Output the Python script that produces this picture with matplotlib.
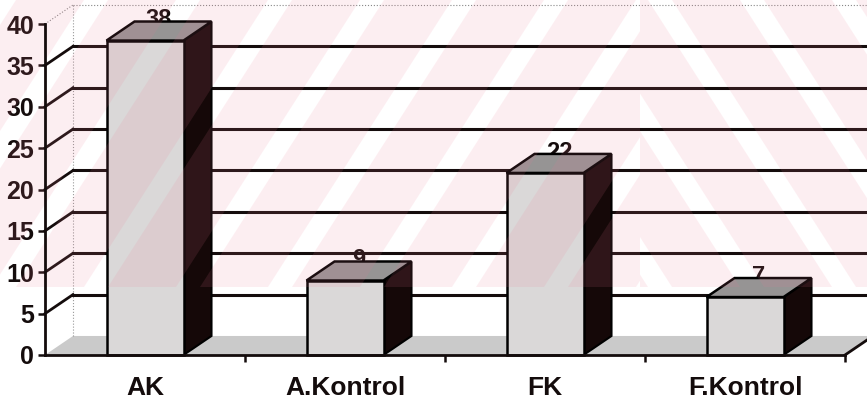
import numpy as np
import matplotlib.pyplot as plt
from matplotlib.patches import Polygon, Rectangle

plt.rcParams['font.family'] = ['Liberation Sans', 'DejaVu Sans']
plt.rcParams['font.weight'] = 'bold'

# data
categories = ['AK', 'A.Kontrol', 'FK', 'F.Kontrol']
values = [38, 9, 22, 7]
y_ticks = [0, 5, 10, 15, 20, 25, 30, 35, 40]

W, H = 867, 403
fig = plt.figure(figsize=(W / 100, H / 100), dpi=100)
ax = fig.add_axes([45 / W, 48 / H, 800 / W, 331 / H])
n = len(categories)
ax.set_xlim(0, n)
ax.set_ylim(0, y_ticks[-1])

dx = 0.14    # depth of the 3d effect, in category units
dy = 2.3     # depth of the 3d effect, in value units
bw = 0.385   # bar width
x_end = n + 0.2
ink = '#140c0c'

# floor
ax.add_patch(Polygon([(0, 0), (n, 0), (n + dx, dy), (dx, dy)],
                     fc='#cacaca', ec='none', zorder=1, clip_on=False))
ax.plot([n, n + dx], [0, dy], color=ink, lw=2, zorder=1.3, clip_on=False)

# back wall and side wall gridlines
for v in y_ticks[1:-1]:
    ax.plot([dx, x_end], [v + dy, v + dy], color=ink, lw=2.2,
            zorder=1.2, clip_on=False)
    ax.plot([0, dx], [v, v + dy], color=ink, lw=2, zorder=1.2,
            clip_on=False)
top = y_ticks[-1]
ax.plot([dx, x_end], [top + dy, top + dy], color='#888888', lw=0.8,
        ls=':', zorder=1.1, clip_on=False)
ax.plot([0, dx], [top, top + dy], color='#888888', lw=0.8, ls=':',
        zorder=1.1, clip_on=False)
ax.plot([dx, dx], [dy, top + dy], color='#999999', lw=0.8, ls=':',
        zorder=1.1, clip_on=False)

# 3d bars
for i, v in enumerate(values):
    x0 = i + 0.5 - bw / 2
    x1 = i + 0.5 + bw / 2
    ax.add_patch(Polygon([(x1, 0), (x1 + dx, dy), (x1 + dx, v + dy), (x1, v)],
                         fc='#150808', ec='black', lw=1.5, zorder=2,
                         clip_on=False))
    ax.add_patch(Polygon([(x0, v), (x1, v), (x1 + dx, v + dy), (x0 + dx, v + dy)],
                         fc='#969494', ec='black', lw=1.8, zorder=2,
                         clip_on=False))
    ax.add_patch(Rectangle((x0, 0), bw, v, fc='#dad8d8', ec='black',
                           lw=1.8, zorder=2, clip_on=False))
    # label sits behind the top face
    ax.text(i + 0.5 + dx / 2, v + dy - 0.6, str(v), ha='center',
            va='baseline', fontsize=17, fontweight='bold', color=ink,
            zorder=1.9, clip_on=False)

# axes
for s in ['top', 'right']:
    ax.spines[s].set_visible(False)
for s in ['left', 'bottom']:
    ax.spines[s].set_linewidth(2)
    ax.spines[s].set_color(ink)
    ax.spines[s].set_zorder(2.6)

ax.set_yticks(y_ticks)
ax.tick_params(axis='y', direction='out', length=5, width=1.8,
               labelsize=18, pad=3, color=ink)
ax.set_xticks(np.arange(n) + 0.5)
ax.set_xticklabels(categories)
ax.tick_params(axis='x', which='major', length=0, labelsize=19, pad=15)
ax.set_xticks(np.arange(1, n + 1), minor=True)
ax.tick_params(axis='x', which='minor', direction='out', length=5,
               width=1.8, color=ink)
for lbl in ax.get_xticklabels() + ax.get_yticklabels():
    lbl.set_fontweight('bold')
    lbl.set_color(ink)

# pale pink scan watermark over the upper part
wm_bottom = 287
lean = 184
split = 640


def to_fig(pts):
    return [(x / W, 1 - y / H) for x, y in pts]


def add_band(pts, clip_x0, clip_x1):
    p = Polygon(to_fig(pts), closed=True, fc='#ee7a94', ec='none',
                alpha=0.12, transform=fig.transFigure, zorder=2.2)
    ax.add_artist(p)
    p.set_clip_path(Rectangle((clip_x0 / W, 1 - wm_bottom / H),
                              (clip_x1 - clip_x0) / W, wm_bottom / H,
                              transform=fig.transFigure))


for b in range(-260, split + 40, 92):
    add_band([(b, wm_bottom), (b + 68, wm_bottom), (b + 68 + lean, 0),
              (b + lean, 0)], 0, split)
for b in range(split - 60, W + 260, 92):
    add_band([(b, wm_bottom), (b + 68, wm_bottom), (b + 68 - lean, 0),
              (b - lean, 0)], split, W)

fig.savefig('out.png', dpi=100)
